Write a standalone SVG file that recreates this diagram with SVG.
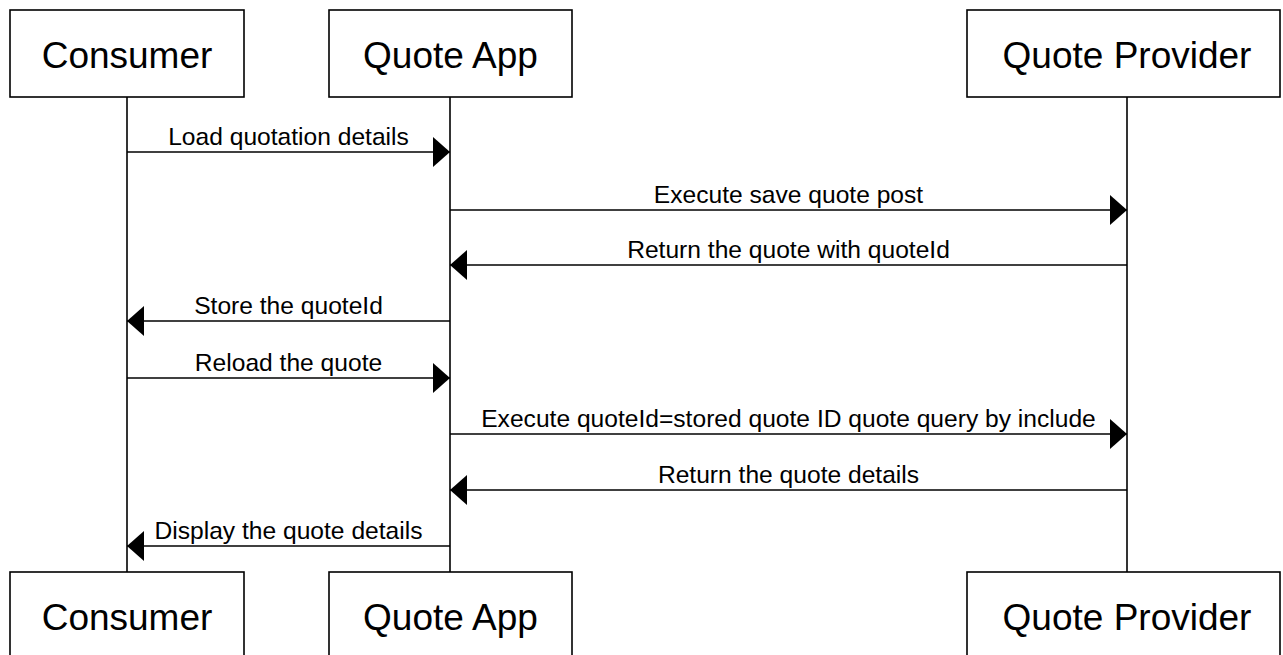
<svg xmlns="http://www.w3.org/2000/svg" width="1283" height="655" viewBox="0 0 1283 655">
<defs>
<marker id="ah" markerUnits="userSpaceOnUse" markerWidth="18" markerHeight="32" refX="17" refY="15" orient="auto">
<path d="M0,0 L17,15 L0,30 Z" fill="#000"/>
</marker>
</defs>
<style>
.box{fill:#fff;stroke:#000;stroke-width:1.6}
.life{stroke:#000;stroke-width:1.6;fill:none}
.msg{stroke:#000;stroke-width:1.6;fill:none;marker-end:url(#ah)}
.actor{font-family:"Liberation Sans",Arial,sans-serif;font-size:37px;fill:#000;text-anchor:middle}
.lbl{font-family:"Liberation Sans",Arial,sans-serif;font-size:24.6px;fill:#000;text-anchor:middle}
</style>
<rect width="1283" height="655" fill="#fff"/>
<g id="lifelines">
<line class="life" x1="127" y1="97" x2="127" y2="572"/>
<line class="life" x1="450" y1="97" x2="450" y2="572"/>
<line class="life" x1="1127" y1="97" x2="1127" y2="572"/>
</g>
<g id="consumer-top"><rect class="box" x="10" y="10" width="234" height="87"/><text class="actor" x="127" y="68">Consumer</text></g>
<g id="quoteapp-top"><rect class="box" x="329" y="10" width="243" height="87"/><text class="actor" x="450.5" y="68">Quote App</text></g>
<g id="provider-top"><rect class="box" x="967" y="10" width="313" height="87"/><text class="actor" x="1127" y="68">Quote Provider</text></g>
<g id="consumer-bottom"><rect class="box" x="10" y="572" width="234" height="87"/><text class="actor" x="127" y="630">Consumer</text></g>
<g id="quoteapp-bottom"><rect class="box" x="329" y="572" width="243" height="87"/><text class="actor" x="450.5" y="630">Quote App</text></g>
<g id="provider-bottom"><rect class="box" x="967" y="572" width="313" height="87"/><text class="actor" x="1127" y="630">Quote Provider</text></g>
<g id="connectors">
<line class="msg" x1="127" y1="152" x2="450" y2="152"/>
<text class="lbl" x="288.5" y="145">Load quotation details</text>
<line class="msg" x1="450" y1="210" x2="1127" y2="210"/>
<text class="lbl" x="788.5" y="203">Execute save quote post</text>
<line class="msg" x1="1127" y1="265" x2="450" y2="265"/>
<text class="lbl" x="788.5" y="258">Return the quote with quoteId</text>
<line class="msg" x1="450" y1="321" x2="127" y2="321"/>
<text class="lbl" x="288.5" y="314">Store the quoteId</text>
<line class="msg" x1="127" y1="378" x2="450" y2="378"/>
<text class="lbl" x="288.5" y="371">Reload the quote</text>
<line class="msg" x1="450" y1="434" x2="1127" y2="434"/>
<text class="lbl" x="788.5" y="427">Execute quoteId=stored quote ID quote query by include</text>
<line class="msg" x1="1127" y1="490" x2="450" y2="490"/>
<text class="lbl" x="788.5" y="483">Return the quote details</text>
<line class="msg" x1="450" y1="546" x2="127" y2="546"/>
<text class="lbl" x="288.5" y="539">Display the quote details</text>
</g>
</svg>
